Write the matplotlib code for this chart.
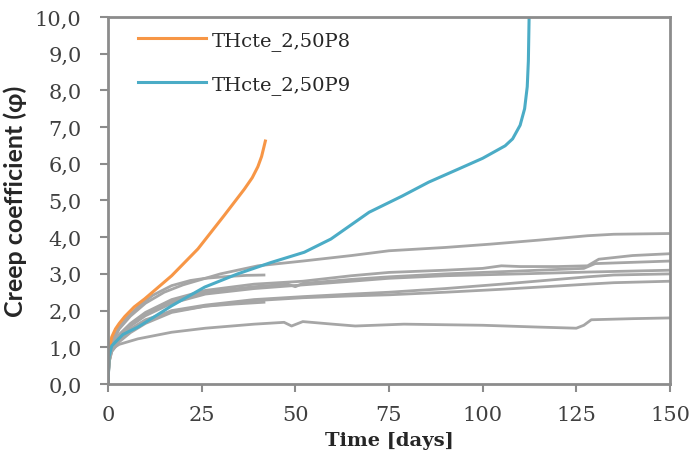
import matplotlib
matplotlib.use("Agg")
import matplotlib.pyplot as plt
from matplotlib.ticker import FuncFormatter

# creep coefficient vs time, specimens
p8_days = [0, 0.3, 1, 2, 3, 4.5, 7, 9.8, 13, 17, 24, 31, 36.4, 38.5, 40, 41, 41.6, 42]
p8_phi = [0, 0.9, 1.28, 1.5, 1.65, 1.84, 2.1, 2.32, 2.6, 2.95, 3.68, 4.59, 5.31, 5.62,
          5.92, 6.2, 6.45, 6.62]

p9_days = [0, 0.3, 1, 4, 8, 17, 25.8, 34.6, 43.5, 52.4, 59.5, 69.7, 78.5, 85.6,
           93.6, 100, 106, 108, 110, 111.2, 111.9, 112.2, 112.4]
p9_phi = [0, 0.75, 1.04, 1.35, 1.55, 2.13, 2.64, 3.0, 3.31, 3.59, 3.95, 4.68, 5.12,
          5.5, 5.86, 6.15, 6.49, 6.68, 7.05, 7.5, 8.1, 8.8, 10.0]

g1_days = [0, 0.3, 1, 3, 6, 10, 15, 20, 25, 30, 40, 52, 65, 75, 90, 102, 115, 128, 135, 150]
g1_phi = [0, 0.8, 1.1, 1.5, 1.85, 2.2, 2.5, 2.7, 2.85, 3.0, 3.22, 3.35, 3.5, 3.63, 3.72,
          3.81, 3.92, 4.04, 4.08, 4.1]

g2_days = [0, 0.3, 1, 3, 6, 10, 17, 26, 39, 52, 65, 75, 90, 100, 105, 110, 120, 128, 131, 140, 150]
g2_phi = [0, 0.75, 1.0, 1.35, 1.65, 1.95, 2.3, 2.55, 2.72, 2.8, 2.95, 3.04, 3.1, 3.15, 3.22,
          3.2, 3.2, 3.22, 3.4, 3.5, 3.55]

g3_days = [0, 0.3, 1, 3, 6, 10, 17, 26, 39, 48, 50, 52, 65, 75, 90, 110, 127, 130, 150]
g3_phi = [0, 0.7, 0.98, 1.3, 1.6, 1.9, 2.25, 2.5, 2.65, 2.72, 2.65, 2.74, 2.85, 2.92, 3.0,
          3.08, 3.15, 3.28, 3.35]

g4_days = [0, 0.3, 1, 3, 6, 10, 17, 26, 39, 52, 65, 75, 90, 110, 128, 150]
g4_phi = [0, 0.7, 0.96, 1.28, 1.58, 1.86, 2.2, 2.45, 2.6, 2.7, 2.8, 2.88, 2.95, 3.0, 3.05, 3.1]

g5_days = [0, 0.3, 1, 3, 6, 10, 17, 26, 39, 52, 65, 75, 90, 105, 120, 128, 135, 150]
g5_phi = [0, 0.6, 0.9, 1.2, 1.45, 1.7, 2.0, 2.15, 2.3, 2.38, 2.45, 2.5, 2.6, 2.72, 2.85,
          2.92, 2.97, 3.0]

g6_days = [0, 0.3, 1, 3, 6, 10, 17, 26, 39, 52, 65, 75, 90, 105, 120, 128, 135, 150]
g6_phi = [0, 0.6, 0.88, 1.15, 1.4, 1.65, 1.95, 2.12, 2.27, 2.35, 2.4, 2.43, 2.5, 2.58,
          2.67, 2.72, 2.76, 2.8]

g7_days = [0, 0.3, 1, 3, 5, 8, 12, 17, 22, 26, 32, 37, 42]
g7_phi = [0, 0.85, 1.15, 1.55, 1.8, 2.1, 2.42, 2.68, 2.82, 2.88, 2.93, 2.96, 2.97]

g8_days = [0, 0.3, 1, 3, 6, 10, 17, 26, 34, 42]
g8_phi = [0, 0.7, 0.95, 1.25, 1.5, 1.75, 1.98, 2.12, 2.18, 2.23]

g9_days = [0, 0.3, 1, 3, 8, 17, 26, 39, 47, 49, 52, 60, 66, 79, 100, 115, 125, 127, 129, 140, 150]
g9_phi = [0, 0.6, 0.95, 1.08, 1.23, 1.41, 1.52, 1.63, 1.68, 1.58, 1.7, 1.63, 1.58, 1.63,
          1.6, 1.55, 1.52, 1.6, 1.75, 1.78, 1.8]

grays = [(g1_days, g1_phi), (g2_days, g2_phi), (g3_days, g3_phi), (g4_days, g4_phi),
         (g5_days, g5_phi), (g6_days, g6_phi), (g7_days, g7_phi), (g8_days, g8_phi),
         (g9_days, g9_phi)]

x_ticks = [0, 25, 50, 75, 100, 125, 150]
y_ticks = [0, 1, 2, 3, 4, 5, 6, 7, 8, 9, 10]

fig = plt.figure(figsize=(6.94, 4.64), dpi=100)
ax = fig.add_axes([0.1556, 0.1703, 0.8098, 0.7909])

for d, v in grays:
    ax.plot(d, v, color='#a6a6a6', lw=2.0, solid_capstyle='butt')
ax.plot(p8_days, p8_phi, color='#f79646', lw=2.2, label='THcte_2,50P8')
ax.plot(p9_days, p9_phi, color='#4bacc6', lw=2.2, label='THcte_2,50P9')

ax.set_xlim(0, 150)
ax.set_ylim(0, 10)
ax.set_xticks(x_ticks)
ax.set_yticks(y_ticks)
ax.yaxis.set_major_formatter(FuncFormatter(lambda v, p: f"{v:.1f}".replace('.', ',')))

for s in ax.spines.values():
    s.set_color('#8c8c8c')
    s.set_linewidth(2)
ax.tick_params(axis='both', colors='#8c8c8c', width=1.5, length=6, labelcolor='#404040',
               labelsize=15)
ax.tick_params(axis='y', pad=13)
ax.tick_params(axis='x', pad=9)
for lab in ax.get_xticklabels() + ax.get_yticklabels():
    lab.set_family('DejaVu Serif')

ax.set_xlabel('Time [days]', family='DejaVu Serif', fontweight='bold', fontsize=14,
              color='#262626', labelpad=5)
ax.set_ylabel('Creep coefficient (φ)', family=['Lato', 'DejaVu Sans'], fontweight='bold',
              fontsize=18, color='#262626', labelpad=6)

leg = ax.legend(loc='upper left', bbox_to_anchor=(0.053, 0.962), frameon=False,
                borderaxespad=0, borderpad=0, handlelength=3.5, handletextpad=0.3,
                labelspacing=1.3, prop={'family': 'DejaVu Serif', 'size': 14})
for t in leg.get_texts():
    t.set_color('#262626')

fig.savefig('out.png', dpi=100)
